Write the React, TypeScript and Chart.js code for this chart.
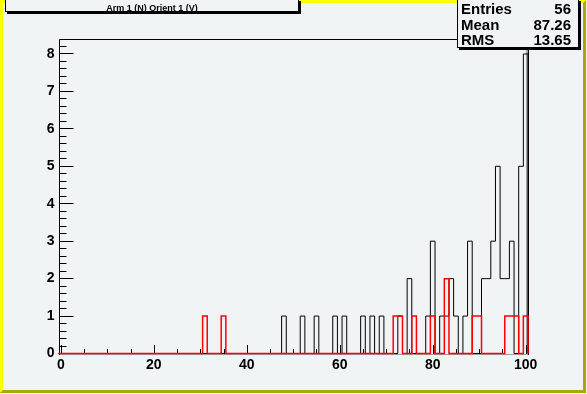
import React, { useEffect, useRef } from "react";
import { Chart, registerables } from "chart.js";

Chart.register(...registerables);

// ---- data ----
const TITLE = "Arm 1 (N) Orient 1 (V)";
const X_MIN = -0.5;
const X_MAX = 100.5;
const N_BINS = 101;
const Y_MAX = 8.4;

const blackBins = [48, 52, 55, 59, 61, 65, 67, 69, 73, 75, 79, 80, 82, 83, 84, 85, 87, 88, 91, 92, 93, 94, 95, 96, 97, 99, 100];
const blackCounts = [1, 1, 1, 1, 1, 1, 1, 1, 1, 2, 1, 3, 1, 1, 2, 1, 1, 3, 2, 2, 3, 5, 2, 2, 3, 5, 8];

const redBins = [31, 35, 72, 73, 76, 80, 83, 89, 90, 96, 97, 98, 100];
const redCounts = [1, 1, 1, 1, 1, 1, 2, 1, 1, 1, 1, 1, 1];

const xTickLabels = [0, 20, 40, 60, 80, 100];
const yTickLabels = [0, 1, 2, 3, 4, 5, 6, 7, 8];
const X_MINOR_STEP = 5;
const Y_MINOR_STEP = 0.2;

const statsNames = ["Entries", "Mean", "RMS"];
const statsValues = ["56", "87.26", "13.65"];

// ---- styling ----
const W = 587;
const H = 394;
const BG = "#f1f4f5";
const FONT = "'Liberation Sans', Arial, Helvetica, sans-serif";

function outline(bins: number[], counts: number[]) {
  const binWidth = (X_MAX - X_MIN) / N_BINS;
  const dense: number[] = new Array(N_BINS).fill(0);
  bins.forEach((b, i) => {
    const idx = Math.round((b - (X_MIN + binWidth / 2)) / binWidth);
    dense[idx] = counts[i];
  });
  const pts: { x: number; y: number }[] = [{ x: X_MIN, y: 0 }];
  for (let k = 0; k < N_BINS; k++) {
    pts.push({ x: X_MIN + k * binWidth, y: dense[k] });
  }
  pts.push({ x: X_MAX, y: dense[N_BINS - 1] });
  pts.push({ x: X_MAX, y: 0 });
  return pts;
}

function tickList(max: number, step: number) {
  const out: number[] = [];
  for (let i = 0; i * step <= max + 1e-9; i++) out.push(+(i * step).toFixed(6));
  return out;
}

const isLabel = (v: number, labels: number[]) => labels.some((l) => Math.abs(l - v) < 1e-6);

const rootPlugin = {
  id: "rootStyle",
  beforeDraw(chart: any) {
    const ctx = chart.ctx as CanvasRenderingContext2D;
    ctx.save();
    ctx.fillStyle = BG;
    ctx.fillRect(0, 0, W, H);
    // bevel border
    const b = 3;
    ctx.fillStyle = "#ffff00";
    ctx.beginPath();
    ctx.moveTo(0, 0);
    ctx.lineTo(W, 0);
    ctx.lineTo(W - b, b);
    ctx.lineTo(b, b);
    ctx.lineTo(b, H - b);
    ctx.lineTo(0, H);
    ctx.closePath();
    ctx.fill();
    ctx.fillStyle = "#a9a900";
    ctx.beginPath();
    ctx.moveTo(W - 1, 0);
    ctx.lineTo(W - 1, H - 1);
    ctx.lineTo(0, H - 1);
    ctx.lineTo(b, H - 1 - b);
    ctx.lineTo(W - 1 - b, H - 1 - b);
    ctx.lineTo(W - 1 - b, b);
    ctx.closePath();
    ctx.fill();

    // title box
    ctx.fillStyle = BG;
    ctx.fillRect(5, 0, 294, 12);
    ctx.strokeStyle = "#000";
    ctx.lineWidth = 1;
    ctx.strokeRect(5.5, -2.5, 293, 14);
    ctx.fillStyle = "#000";
    ctx.fillRect(299, 1, 2, 13);
    ctx.fillRect(7, 12, 294, 2);
    ctx.font = `bold 9px ${FONT}`;
    ctx.textAlign = "center";
    ctx.textBaseline = "alphabetic";
    ctx.fillText(TITLE, 152, 10.5);
    ctx.restore();
  },
  beforeDatasetsDraw(chart: any) {
    const ctx = chart.ctx as CanvasRenderingContext2D;
    const { left, right, top } = chart.chartArea;
    const xs = chart.scales.x;
    const ys = chart.scales.y;
    const L = Math.round(left) + 0.5;
    const R = Math.round(right) + 0.5;
    const T = Math.round(top) + 0.5;
    const B = Math.round(ys.getPixelForValue(0) + 0.5); // row just below the baseline
    ctx.save();
    // frame shadow strips
    ctx.fillStyle = "#a0a0a0";
    ctx.fillRect(R - 2.5, T, 2, B - T);
    ctx.fillRect(L, B, R - L, 1);
    // frame lines
    ctx.strokeStyle = "#000";
    ctx.lineWidth = 1;
    ctx.beginPath();
    ctx.moveTo(L, B + 1);
    ctx.lineTo(L, T);
    ctx.lineTo(R, T);
    ctx.lineTo(R, B + 1);
    ctx.stroke();
    // x ticks (inward)
    ctx.beginPath();
    for (const v of tickList(xTickLabels[xTickLabels.length - 1], X_MINOR_STEP)) {
      const px = Math.round(xs.getPixelForValue(v)) + 0.5;
      const len = isLabel(v, xTickLabels) ? 9 : 5;
      ctx.moveTo(px, B);
      ctx.lineTo(px, B - len);
    }
    // y ticks (inward)
    for (const v of tickList(Y_MAX - Y_MINOR_STEP, Y_MINOR_STEP)) {
      const py = Math.floor(ys.getPixelForValue(v)) + 0.5;
      const len = isLabel(v, yTickLabels) ? 14 : 7;
      ctx.moveTo(L, py);
      ctx.lineTo(L + len, py);
    }
    ctx.stroke();
    ctx.restore();
  },
  afterDraw(chart: any) {
    const ctx = chart.ctx as CanvasRenderingContext2D;
    ctx.save();
    // stats box
    ctx.fillStyle = BG;
    ctx.fillRect(457, 0, 121, 47);
    ctx.strokeStyle = "#000";
    ctx.lineWidth = 1;
    ctx.strokeRect(457.5, -2.5, 121, 50);
    ctx.fillStyle = "#000";
    ctx.fillRect(579, 1, 2, 49);
    ctx.fillRect(459, 48, 122, 2);
    ctx.font = `bold 15px ${FONT}`;
    ctx.textBaseline = "alphabetic";
    const baselines = [13.5, 29.5, 45];
    statsNames.forEach((n, i) => {
      ctx.textAlign = "left";
      ctx.fillText(n, 461, baselines[i]);
      ctx.textAlign = "right";
      ctx.fillText(statsValues[i], 571, baselines[i]);
    });
    ctx.restore();
  },
};

export default function App() {
  const ref = useRef<HTMLCanvasElement | null>(null);

  useEffect(() => {
    document.body.style.margin = "0";
    const canvas = ref.current;
    if (!canvas) return;
    const chart = new Chart(canvas, {
      type: "line",
      data: {
        datasets: [
          {
            label: "black",
            data: outline(blackBins, blackCounts),
            borderColor: "#000000",
            borderWidth: 1,
            pointRadius: 0,
            fill: false,
            stepped: "before",
            tension: 0,
            clip: 3,
            order: 2,
          },
          {
            label: "red",
            data: outline(redBins, redCounts),
            borderColor: "#ff0000",
            borderWidth: 1.5,
            pointRadius: 0,
            fill: false,
            stepped: "before",
            tension: 0,
            clip: 3,
            order: 1,
          },
        ],
      },
      options: {
        animation: false,
        responsive: false,
        devicePixelRatio: 1,
        parsing: false,
        layout: { padding: { left: 0, top: 39, right: 59, bottom: 0 } },
        plugins: { legend: { display: false }, tooltip: { enabled: false }, title: { display: false } },
        scales: {
          x: {
            type: "linear",
            min: X_MIN,
            max: X_MAX,
            grid: { display: false, drawTicks: false },
            border: { display: false },
            afterBuildTicks: (s: any) => {
              s.ticks = xTickLabels.map((value) => ({ value }));
            },
            afterFit: (s: any) => {
              s.height = 40;
            },
            ticks: {
              autoSkip: false,
              maxRotation: 0,
              padding: 3,
              color: "#000",
              font: { family: FONT, size: 14, weight: "bold" },
              callback: (v: any) => String(v),
            },
          },
          y: {
            type: "linear",
            min: -0.013,
            max: Y_MAX,
            grid: { display: false, drawTicks: false },
            border: { display: false },
            afterBuildTicks: (s: any) => {
              s.ticks = yTickLabels.map((value) => ({ value }));
            },
            afterFit: (s: any) => {
              s.width = 58.5;
            },
            ticks: {
              autoSkip: false,
              padding: 4,
              color: "#000",
              font: { family: FONT, size: 14, weight: "bold" },
              callback: (v: any) => String(v),
            },
          },
        },
      },
      plugins: [rootPlugin],
    } as any);
    return () => chart.destroy();
  }, []);

  return <canvas ref={ref} width={W} height={H} style={{ display: "block", width: W, height: H }} />;
}
